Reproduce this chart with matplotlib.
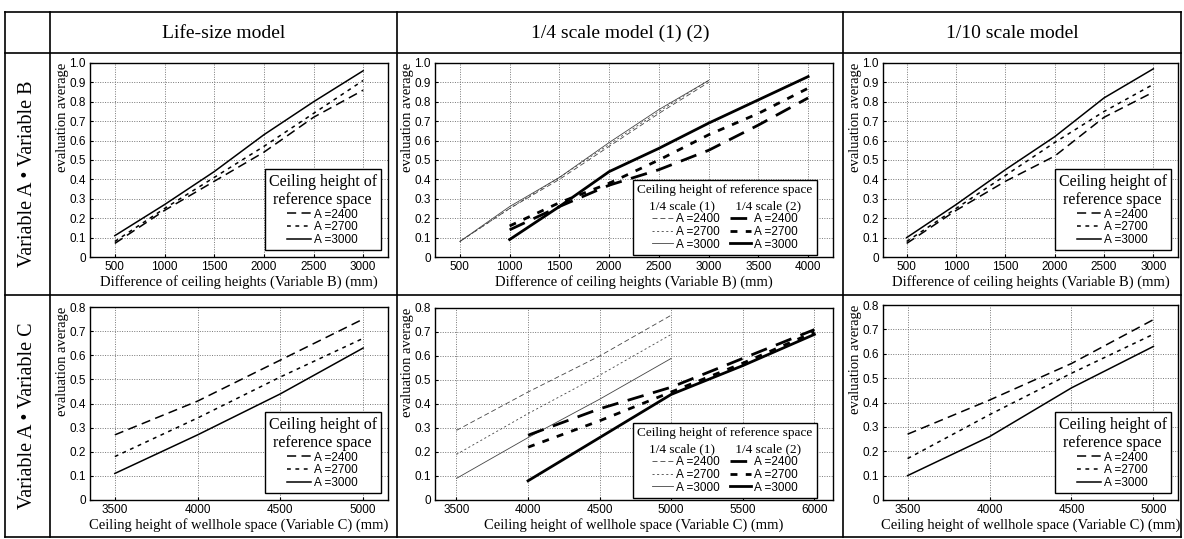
import matplotlib.pyplot as plt
from matplotlib.lines import Line2D

#### Data ####
col_titles = ["Life-size model", "1/4 scale model (1) (2)", "1/10 scale model"]
row_titles = ["Variable A \u2022 Variable B", "Variable A \u2022 Variable C"]
series_labels = ["A =2400", "A =2700", "A =3000"]

var_b = [500, 1000, 1500, 2000, 2500, 3000]          # Variable B (mm)
var_b_q2 = [1000, 1500, 2000, 2500, 3000, 3500, 4000]  # 1/4 scale (2)
var_c = [3500, 4000, 4500, 5000]                       # Variable C (mm)
var_c_q2 = [4000, 4500, 5000, 5500, 6000]              # 1/4 scale (2)

# top row: Variable A x Variable B
life_b_2400 = [0.07, 0.24, 0.39, 0.54, 0.72, 0.86]
life_b_2700 = [0.08, 0.25, 0.41, 0.57, 0.74, 0.91]
life_b_3000 = [0.11, 0.27, 0.44, 0.63, 0.80, 0.96]

q1_b_2400 = [0.08, 0.25, 0.40, 0.57, 0.74, 0.90]
q1_b_2700 = [0.08, 0.25, 0.41, 0.58, 0.75, 0.91]
q1_b_3000 = [0.08, 0.26, 0.41, 0.59, 0.76, 0.91]
q2_b_2400 = [0.14, 0.26, 0.37, 0.45, 0.55, 0.68, 0.82]
q2_b_2700 = [0.16, 0.28, 0.38, 0.50, 0.63, 0.74, 0.87]
q2_b_3000 = [0.09, 0.26, 0.44, 0.56, 0.69, 0.81, 0.93]

tenth_b_2400 = [0.07, 0.24, 0.39, 0.52, 0.72, 0.85]
tenth_b_2700 = [0.08, 0.25, 0.42, 0.59, 0.75, 0.89]
tenth_b_3000 = [0.10, 0.27, 0.45, 0.62, 0.82, 0.97]

# bottom row: Variable A x Variable C
life_c_2400 = [0.27, 0.41, 0.58, 0.75]
life_c_2700 = [0.18, 0.34, 0.51, 0.67]
life_c_3000 = [0.11, 0.27, 0.44, 0.63]

q1_c_2400 = [0.29, 0.45, 0.60, 0.77]
q1_c_2700 = [0.19, 0.36, 0.52, 0.69]
q1_c_3000 = [0.09, 0.26, 0.42, 0.59]
q2_c_2400 = [0.27, 0.38, 0.47, 0.59, 0.71]
q2_c_2700 = [0.22, 0.33, 0.45, 0.57, 0.70]
q2_c_3000 = [0.08, 0.26, 0.44, 0.56, 0.69]

tenth_c_2400 = [0.27, 0.41, 0.56, 0.74]
tenth_c_2700 = [0.17, 0.35, 0.52, 0.68]
tenth_c_3000 = [0.10, 0.26, 0.46, 0.63]

#### Style ####
SERIF = "Liberation Serif"
SANS = "Liberation Sans"
styles = [(0, (6, 3.5)), (0, (2.5, 3)), "-"]   # 2400, 2700, 3000
W, H = 1184, 539

fig = plt.figure(figsize=(W / 100, H / 100), dpi=100)


def box(l, r, t, b):
    # pixel box -> figure fraction
    return [l / W, 1 - b / H, (r - l) / W, (b - t) / H]


def setup(ax, xlim, xticks, ymax, xlabel):
    ax.set_xlim(xlim)
    ax.set_ylim(0, ymax)
    ax.set_xticks(xticks)
    yt = [i / 10 for i in range(int(round(ymax * 10)) + 1)]
    ax.set_yticks(yt)
    ax.set_yticklabels(["0"] + ["%.1f" % v for v in yt[1:]])
    ax.grid(True, color="#777777", linestyle=(0, (1, 1.5)), linewidth=0.7)
    ax.tick_params(direction="in", length=2, labelsize=8.5, pad=3)
    for lab in ax.get_xticklabels() + ax.get_yticklabels():
        lab.set_fontfamily(SANS)
    for s in ax.spines.values():
        s.set_linewidth(1.0)
    ax.set_xlabel(xlabel, fontfamily=SERIF, fontsize=10.5, labelpad=1)
    ax.set_ylabel("evaluation average", fontfamily=SERIF, fontsize=10.5,
                  loc="top", labelpad=0)


def simple_legend(ax):
    leg = ax.legend(loc="lower right", title="Ceiling height of\nreference space",
                    fancybox=False, edgecolor="black", framealpha=1,
                    handlelength=2.0, handletextpad=0.3, labelspacing=0.05,
                    borderpad=0.35, borderaxespad=0.6,
                    prop={"family": SANS, "size": 8.5},
                    title_fontproperties={"family": SERIF, "size": 11.5})
    leg.get_frame().set_linewidth(1.0)
    leg.get_title().set_multialignment("center")


def pair_legend(ax, h1, h2):
    handles = h1 + h2
    leg = ax.legend(handles, series_labels + series_labels, ncol=2,
                    loc="lower right",
                    title="Ceiling height of reference space\n"
                          "1/4 scale (1)      1/4 scale (2)",
                    fancybox=False, edgecolor="black", framealpha=1,
                    handlelength=1.8, handletextpad=0.3, labelspacing=0.05,
                    columnspacing=0.8, borderpad=0.4,
                    bbox_to_anchor=(0.965, 0.0), borderaxespad=0.15,
                    prop={"family": SANS, "size": 8.5},
                    title_fontproperties={"family": SERIF, "size": 9.5})
    leg.get_frame().set_linewidth(1.0)
    leg.get_title().set_multialignment("center")
    leg.get_title().set_linespacing(1.5)


xl_b = "Difference of ceiling heights (Variable B) (mm)"
xl_c = "Ceiling height of wellhole space (Variable C) (mm)"

#### Top row ####
ax = fig.add_axes(box(90, 388, 63, 257))
for ys, ls, lab in zip([life_b_2400, life_b_2700, life_b_3000], styles, series_labels):
    ax.plot(var_b, ys, color="black", linestyle=ls, linewidth=1.1, label=lab)
setup(ax, (250, 3250), var_b, 1.0, xl_b)
simple_legend(ax)

ax = fig.add_axes(box(435, 833, 63, 257))
h1, h2 = [], []
for ys, ls in zip([q1_b_2400, q1_b_2700, q1_b_3000], styles):
    h1 += ax.plot(var_b, ys, color="#444444", linestyle=ls, linewidth=0.6)
for ys, ls in zip([q2_b_2400, q2_b_2700, q2_b_3000], styles):
    h2 += ax.plot(var_b_q2, ys, color="black", linestyle=ls, linewidth=2.0)
setup(ax, (250, 4250), [500, 1000, 1500, 2000, 2500, 3000, 3500, 4000], 1.0, xl_b)
pair_legend(ax, h1, h2)

ax = fig.add_axes(box(883, 1178, 63, 257))
for ys, ls, lab in zip([tenth_b_2400, tenth_b_2700, tenth_b_3000], styles, series_labels):
    ax.plot(var_b, ys, color="black", linestyle=ls, linewidth=1.1, label=lab)
setup(ax, (260, 3250), var_b, 1.0, xl_b)
simple_legend(ax)

#### Bottom row ####
ax = fig.add_axes(box(90, 388, 307, 500))
for ys, ls, lab in zip([life_c_2400, life_c_2700, life_c_3000], styles, series_labels):
    ax.plot(var_c, ys, color="black", linestyle=ls, linewidth=1.1, label=lab)
setup(ax, (3350, 5150), var_c, 0.8, xl_c)
simple_legend(ax)

ax = fig.add_axes(box(435, 833, 308, 500))
h1, h2 = [], []
for ys, ls in zip([q1_c_2400, q1_c_2700, q1_c_3000], styles):
    h1 += ax.plot(var_c, ys, color="#444444", linestyle=ls, linewidth=0.6)
for ys, ls in zip([q2_c_2400, q2_c_2700, q2_c_3000], styles):
    h2 += ax.plot(var_c_q2, ys, color="black", linestyle=ls, linewidth=2.0)
setup(ax, (3350, 6130), [3500, 4000, 4500, 5000, 5500, 6000], 0.8, xl_c)
pair_legend(ax, h1, h2)

ax = fig.add_axes(box(883, 1178, 305, 500))
for ys, ls, lab in zip([tenth_c_2400, tenth_c_2700, tenth_c_3000], styles, series_labels):
    ax.plot(var_c, ys, color="black", linestyle=ls, linewidth=1.1, label=lab)
setup(ax, (3350, 5150), var_c, 0.8, xl_c)
simple_legend(ax)

#### Table frame ####
xs = [5, 50, 397, 843, 1181]
ys = [12, 53, 295, 537]
for x in xs:
    fig.add_artist(Line2D([x / W, x / W], [1 - ys[0] / H, 1 - ys[-1] / H],
                          color="black", linewidth=1.2))
for y in ys:
    fig.add_artist(Line2D([xs[0] / W, xs[-1] / W], [1 - y / H, 1 - y / H],
                          color="black", linewidth=1.2))

for i, t in enumerate(col_titles):
    fig.text((xs[i + 1] + xs[i + 2]) / 2 / W, 1 - 33 / H, t, ha="center", va="center",
             fontfamily=SERIF, fontsize=14)
for i, t in enumerate(row_titles):
    fig.text(28 / W, 1 - (ys[i + 1] + ys[i + 2]) / 2 / H, t, ha="center", va="center",
             rotation=90, fontfamily=SERIF, fontsize=14.5)

fig.savefig("out.png", dpi=100)
